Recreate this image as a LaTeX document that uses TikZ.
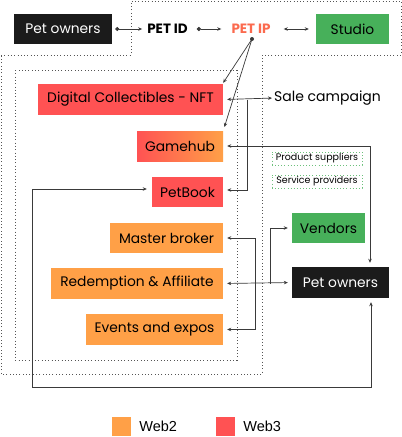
\documentclass[tikz,border=0pt]{standalone}
\usepackage{fontspec}
\setmainfont{Poppins}
\newfontfamily\keyfont{Liberation Sans}
\usetikzlibrary{arrows.meta,positioning}
\definecolor{webtwo}{HTML}{FFA047}
\definecolor{webthree}{HTML}{FF5253}
\definecolor{studiogreen}{HTML}{47B05A}
\definecolor{ownerblack}{HTML}{1B1B1B}
\definecolor{petip}{HTML}{FB6A4E}
\definecolor{linegray}{HTML}{3A3A3A}
\definecolor{dotgray}{HTML}{555555}
\begin{document}
\begin{tikzpicture}[x=1pt,y=-1pt,
  box/.style={minimum height=30pt,inner sep=0pt,font=\fontsize{13.8}{15}\selectfont},
  tag/.style={inner sep=0pt,font=\fontsize{9.5}{11}\selectfont,minimum width=90pt,minimum height=13pt,
    draw=studiogreen!80,line width=0.7pt,dash pattern=on 0.7pt off 2.4pt},
  conn/.style={linegray,line width=0.7pt},
  tip/.style={-{Stealth[length=4pt,width=3.5pt]}},
  bitip/.style={{Stealth[length=4pt,width=3.5pt]}-{Stealth[length=4pt,width=3.5pt]}},
  dottip/.style={{Circle[length=4pt]}-{Stealth[length=4pt,width=3.5pt]}},
  zone/.style={dotgray,line width=0.8pt,dash pattern=on 0.8pt off 2.5pt}]
  \useasboundingbox[fill=white] (0,0) rectangle (402,437);
  % dotted zones
  \draw[zone] (1,55)--(131,55)--(131,1)--(401,1)--(401,55)--(262,55)--(262,374)--(1,374)--cycle;
  \draw[zone] (15,70) rectangle (237,360);
  % top row
  \node[box,fill=ownerblack,text=white,minimum width=98pt] (owner) at (63,29) {Pet owners};
  \node[font=\fontsize{13.5}{15}\selectfont\bfseries,inner sep=4pt] (petid) at (167.5,29) {PET ID};
  \node[font=\fontsize{13.5}{15}\selectfont\bfseries,text=petip,inner sep=4pt] (petip) at (251,29) {PET IP};
  \node[box,fill=studiogreen,minimum width=73pt] (studio) at (352.5,29) {Studio};
  % web3 / web2 products
  \node[box,fill=webthree,minimum width=185pt,minimum height=31pt] (nft) at (130.5,99.5) {Digital Collectibles - NFT};
  \node[font=\fontsize{14}{16}\selectfont,inner sep=0pt,anchor=west] (sale) at (274,98) {Sale campaign};
  \node[box,left color=webthree,right color=webtwo,minimum width=86pt] (gamehub) at (180,146) {Gamehub};
  \node[box,fill=webthree,minimum width=71pt] (petbook) at (187.5,192) {PetBook};
  \node[box,fill=webtwo,minimum width=113pt] (master) at (166.5,238) {Master broker};
  \node[box,fill=webtwo,minimum width=172pt,minimum height=31pt] (redeem) at (137,283.5) {Redemption \& Affiliate};
  \node[box,fill=webtwo,minimum width=137pt,minimum height=31pt] (events) at (154.5,329.5) {Events and expos};
  % right side
  \node[tag] (suppliers) at (317,158.5) {Product suppliers};
  \node[tag] (providers) at (317,181.5) {Service providers};
  \node[box,fill=studiogreen,minimum width=73pt] (vendors) at (328.5,228) {Vendors};
  \node[box,fill=ownerblack,text=white,minimum width=97pt,minimum height=31pt] (owners) at (340.5,282.5) {Pet owners};
  % legend
  \node[fill=webtwo,minimum size=19pt,inner sep=0pt] (keytwo) at (121.5,426.5) {};
  \node[right=8pt of keytwo,inner sep=0pt,font=\keyfont\fontsize{14.5}{16}\selectfont] (keytwotxt) {Web2};
  \node[fill=webthree,minimum size=19pt,inner sep=0pt] (keythree) at (225.5,426.5) {};
  \node[right=8pt of keythree,inner sep=0pt,font=\keyfont\fontsize{14.5}{16}\selectfont] (keythreetxt) {Web3};
  % junctions
  \coordinate (ipdot) at (252,39);
  \coordinate (nftjoin) at (247,99.5);
  \coordinate (vendjoin) at (270,283.5);
  \coordinate (loopright) at (371,387);
  \coordinate (loopleft) at (32,387);
  % connectors
  \draw[conn,dottip,shorten <=3pt,shorten >=1pt] (owner.east) -- (petid.west);
  \draw[conn,dottip,shorten <=5pt,shorten >=6pt] (petid.east) -- (petip.west);
  \draw[conn,bitip,shorten <=9pt,shorten >=7pt] (petip.east) -- (studio.west);
  \fill[linegray] (ipdot) circle[radius=2pt];
  \draw[conn,tip] (ipdot) -- ([yshift=1pt]nft.north east);
  \draw[conn,tip,shorten >=4pt] (ipdot) -- (gamehub.north east);
  \draw[conn,bitip,shorten <=4pt,shorten >=2pt] (nft.east) -- (sale.west);
  \draw[conn,tip,shorten >=4pt] (nftjoin) |- ([yshift=2pt]petbook.east);
  \draw[conn,bitip,shorten <=4pt,shorten >=4pt] (gamehub.east) -| ([xshift=29.5pt]owners.north);
  \draw[conn,bitip,shorten <=4pt,shorten >=5pt] ([xshift=30.5pt]owners.south) -- (loopright) -- (loopleft) |- ([yshift=3pt]petbook.west);
  \draw[conn,bitip,shorten <=4pt,shorten >=4pt] (master.east) -- ++(32,0) |- (events.east);
  \draw[conn,bitip,shorten <=4pt,shorten >=4pt] (redeem.east) -- (owners.west);
  \draw[conn,tip,shorten >=4pt] (vendjoin) |- (vendors.west);
\end{tikzpicture}
\end{document}
